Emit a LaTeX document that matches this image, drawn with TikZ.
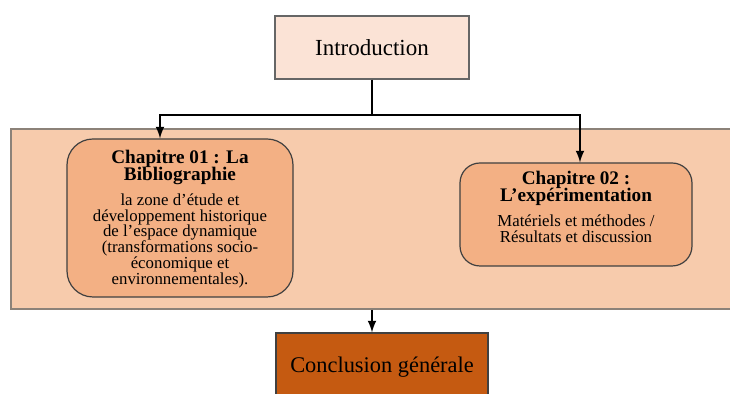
\documentclass[tikz,border=0pt]{standalone}
\usepackage{fontspec}
\setmainfont{Liberation Serif}
\usetikzlibrary{positioning}
\definecolor{introfill}{HTML}{FBE3D6}
\definecolor{panelfill}{HTML}{F7CBAC}
\definecolor{chapfill}{HTML}{F3B084}
\definecolor{conclfill}{HTML}{C55A11}
\definecolor{panelline}{HTML}{8C8279}
\setlength{\lineskiplimit}{-5pt}
\tikzset{
    titlebox/.style={draw=gray!80!black, line width=0.6pt},
    chapbox/.style={draw=black!75, line width=0.6pt, fill=chapfill},
    chaptext/.style={align=center, inner sep=0pt, font=\fontsize{8.4}{7.9}\selectfont},
    link/.style={line width=1pt, black},
}
\newcommand{\chaptitle}{\fontsize{9.6}{8.2}\selectfont\bfseries}
\newcommand{\chapbody}{\fontsize{8.4}{7.9}\selectfont\mdseries}

\begin{document}
\begin{tikzpicture}[x=0.5pt, y=-0.5pt, >=latex]
            \clip (0,0) rectangle (730,394);
            \fill[white] (0,0) rectangle (730,394);
            % ==== PANEL ====
            \node[draw=panelline, line width=0.8pt, fill=panelfill, minimum width=364.5pt, minimum height=90pt, inner sep=0pt] (panel) at (375.5,219) {};
            % ==== INTRODUCTION ====
            \node[titlebox, fill=introfill, minimum width=97pt, minimum height=31.5pt, font=\fontsize{11.5}{13}\selectfont] (intro) at (372,47.5) {Introduction};
            % ==== CHAPTERS ====
            \node[chapbox, rounded corners=13pt, minimum width=113pt, minimum height=79pt] (ch1) at (180,218) {};
            \node[chaptext] (ch1text) at (180,219) {\chaptitle Chapitre 01 : La\\[0.8pt]\chaptitle Bibliographie\\[4.3pt]
                \chapbody la zone d’étude et\\\chapbody développement historique\\\chapbody de l’espace dynamique\\\chapbody (transformations socio-\\\chapbody économique et\\\chapbody environnementales).};
            \node[chapbox, rounded corners=10pt, minimum width=116pt, minimum height=51.5pt] (ch2) at (576,214.5) {};
            \node[chaptext] (ch2text) at (576,207) {\chaptitle Chapitre 02 :\\[0.8pt]\chaptitle L’expérimentation\\[4.6pt]
                \chapbody Matériels et méthodes /\\\chapbody Résultats et discussion};
            % ==== CONCLUSION ====
            \node[draw=black!75, line width=0.6pt, fill=conclfill, minimum width=106pt, minimum height=34pt, font=\fontsize{11.2}{13}\selectfont] (concl) at (382,367) {Conclusion générale};
            % ==== LINKS ====
            \coordinate (bus) at (372,115);
            \draw[link] (intro.south) -- (bus);
            \draw[link, ->] (bus) -| ([xshift=-10]ch1.north);
            \draw[link, ->] (bus) -| ([xshift=2]ch2.north);
            \draw[link, ->] ([xshift=-5]panel.south -| concl.north) -- ([xshift=-5]concl.north);
         \end{tikzpicture}
\end{document}
